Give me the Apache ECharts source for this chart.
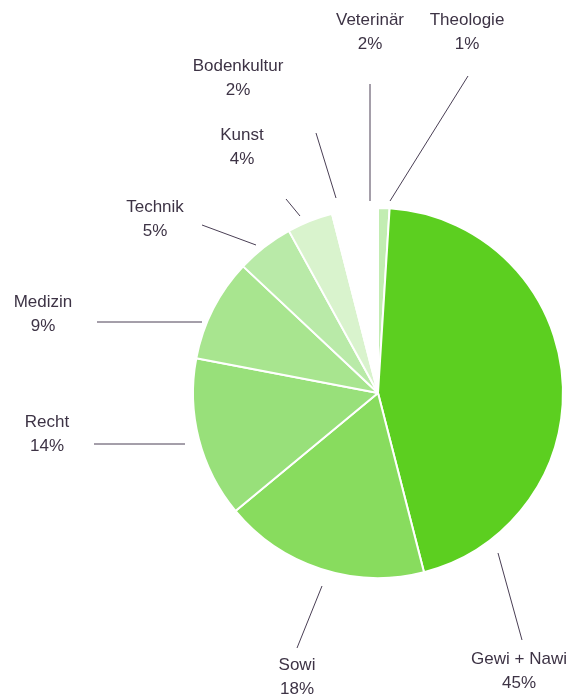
<!DOCTYPE html>
<html>
<head>
<meta charset="utf-8">
<script src="https://cdn.jsdelivr.net/npm/echarts@6/dist/echarts.min.js"></script>
<style>
  html, body { margin: 0; padding: 0; background: #ffffff; }
  #chart { width: 573px; height: 694px; }
</style>
</head>
<body>
<div id="chart"></div>
<script>
// Studienrichtungen – Anteile in Prozent (im Uhrzeigersinn ab 12 Uhr)
const categories = ['Theologie', 'Gewi + Nawi', 'Sowi', 'Recht', 'Medizin', 'Technik', 'Kunst', 'Bodenkultur', 'Veterinär'];
const shares = [1, 45, 18, 14, 9, 5, 4, 2, 2];
const sliceColors = ['#c2edb2', '#5ccf20', '#88dc5e', '#98e07a', '#a8e58f', '#b9eaa8', '#d9f3cd', '#ffffff', '#ffffff'];

// Label placement: text centre and leader line end points (pixels)
const labelSpots = [
  { x: 467, y: 32, line: [[468, 76], [390, 201]] },
  { x: 519, y: 671, line: [[498, 553], [522, 640]] },
  { x: 297, y: 677, line: [[322, 586], [297, 648]] },
  { x: 47, y: 434, line: [[94, 444], [185, 444]] },
  { x: 43, y: 314, line: [[97, 322], [202, 322]] },
  { x: 155, y: 219, line: [[202, 225], [256, 245]] },
  { x: 242, y: 147, line: [[286, 199], [300, 216]] },
  { x: 238, y: 78, line: [[316, 133], [336, 198]] },
  { x: 370, y: 32, line: [[370, 84], [370, 201]] }
];

const chart = echarts.init(document.getElementById('chart'));
chart.setOption({
  backgroundColor: '#ffffff',
  animation: false,
  series: [{
    type: 'pie',
    center: [378, 393],
    radius: [0, 185],
    startAngle: 90,
    clockwise: true,
    avoidLabelOverlap: false,
    minShowLabelAngle: 0,
    data: categories.map((name, i) => ({
      name: name,
      value: shares[i],
      itemStyle: { color: sliceColors[i] }
    })),
    itemStyle: { borderColor: '#ffffff', borderWidth: 2 },
    emphasis: { disabled: true },
    label: {
      show: true,
      formatter: p => p.name + '\n' + p.value + '%',
      fontFamily: 'Liberation Sans, Arial, sans-serif',
      fontSize: 17,
      lineHeight: 24,
      color: '#3d3345',
      align: 'center'
    },
    labelLine: {
      show: true,
      lineStyle: { color: '#4a3f55', width: 1 }
    },
    labelLayout: function (params) {
      const s = labelSpots[params.dataIndex];
      return {
        x: s.x,
        y: s.y,
        align: 'center',
        verticalAlign: 'middle',
        hideOverlap: false,
        labelLinePoints: [s.line[0], s.line[1], s.line[1]]
      };
    }
  }]
});
</script>
</body>
</html>
